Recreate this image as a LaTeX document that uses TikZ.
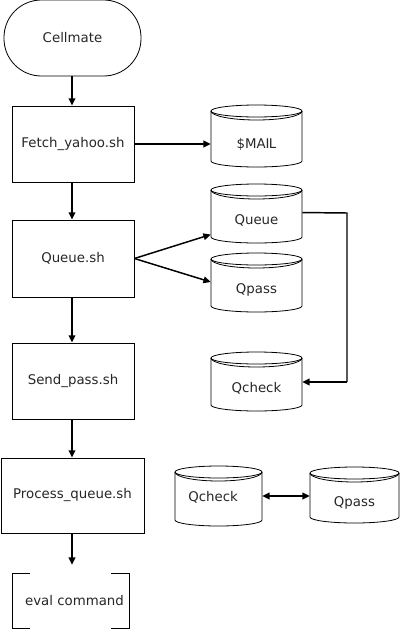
\documentclass[tikz,border=0pt]{standalone}
\usepackage{fontspec}
\setmainfont{DejaVu Sans}
\usetikzlibrary{arrows.meta,calc}
\tikzset{
  outline/.style={draw=black,line width=0.6pt},
  box/.style={outline,rectangle,inner sep=0pt,minimum width=91.5pt,minimum height=57pt},
  conn/.style={line width=1.1pt,-{Triangle[length=5.5pt,width=5pt]}},
  plain/.style={line width=1.1pt}
}
\newcommand\dbcyl[7]{%
  \pgfmathsetmacro\cyrx{(#4-#2)*0.375}%
  \draw[outline,line join=round] (#2,#3+6) arc[start angle=180,end angle=0,x radius=\cyrx pt,y radius=4.5pt] -- (#4,#5-6) arc[start angle=0,end angle=-180,x radius=\cyrx pt,y radius=4.5pt] -- cycle;
  \draw[outline] (#2,#3+6) arc[start angle=180,end angle=360,x radius=\cyrx pt,y radius=4.5pt];
  \draw[outline] (#2,#3+6) arc[start angle=180,end angle=360,x radius=\cyrx pt,y radius=6.75pt];
  \node[inner sep=0pt,minimum width={(#4-#2)*0.75pt},minimum height=9pt] (#1) at ({(#2+#4)/2},#6) {#7};
}
\begin{document}
\begin{tikzpicture}[x=0.75pt,y=-0.75pt,font=\fontsize{10}{12}\selectfont,text=black!85]
\useasboundingbox (0,0) rectangle (400,632);
% main column
\node[outline,rectangle,minimum width=102.75pt,minimum height=57pt,rounded corners=28pt] (cell) at (72.5,38) {Cellmate};
\node[box] (fetch) at (73,144) {Fetch\_yahoo.sh};
\node[box,minimum height=57.75pt] (queue) at (73,258.5) {Queue.sh};
\node[box] (send) at (73,381) {Send\_pass.sh};
\node[box,minimum width=107.25pt,minimum height=56.25pt] (proc) at (72.5,495.5) {Process\_queue.sh};
\node[inner sep=0pt,minimum width=87.75pt,minimum height=41.25pt] (eval) at (70.5,600.5) {\hspace*{6pt}eval command};
\draw[outline] (30,573) -- (12,573) -- (12,628) -- (30,628);
\draw[outline] (111,573) -- (129,573) -- (129,628) -- (111,628);
% data stores
\dbcyl{mail}{211}{105}{302}{167}{144}{\$MAI\kern-0.5pt L}
\dbcyl{qq}{211}{184}{302}{243}{220}{Queue}
\dbcyl{qp}{211}{253}{302}{312}{290}{Qpass}
\dbcyl{qc}{211}{352}{302}{411}{388}{Qcheck}
\dbcyl{qc2}{175}{466}{262}{526}{497}{\hspace*{-8pt}Qcheck}
\dbcyl{qp2}{310}{467}{399}{523}{503}{Qpass}
% connectors
\draw[conn] (cell.south -| 72,0) -- (fetch.north -| 72,0);
\draw[conn] (fetch.south -| 72,0) -- (queue.north -| 72,0);
\draw[conn] (queue.south -| 72,0) -- (send.north -| 72,0);
\draw[conn] (send.south -| 72,0) -- (proc.north -| 72,0);
\draw[conn] (proc.south -| 72,0) -- ([yshift=6pt]eval.north -| 72,0);
\draw[conn] (fetch.east) -- (mail.west);
\draw[conn] (queue.east) -- ([yshift=-10.9pt]qq.west);
\draw[conn] (queue.east) -- ([yshift=6pt]qp.west);
\coordinate (turn1) at (347,213);
\coordinate (turn2) at (347,382);
\draw[plain] ([yshift=5.6pt]qq.east) -- (turn1) -- (turn2);
\draw[conn] (turn2) -- (turn2 -| qc.east);
\draw[line width=1.1pt,{Triangle[length=5.5pt,width=5pt]}-{Triangle[length=5.5pt,width=5pt]}] ([yshift=0.75pt]qc2.east) -- ([yshift=0.75pt]qc2.east -| qp2.west);
\end{tikzpicture}
\end{document}
